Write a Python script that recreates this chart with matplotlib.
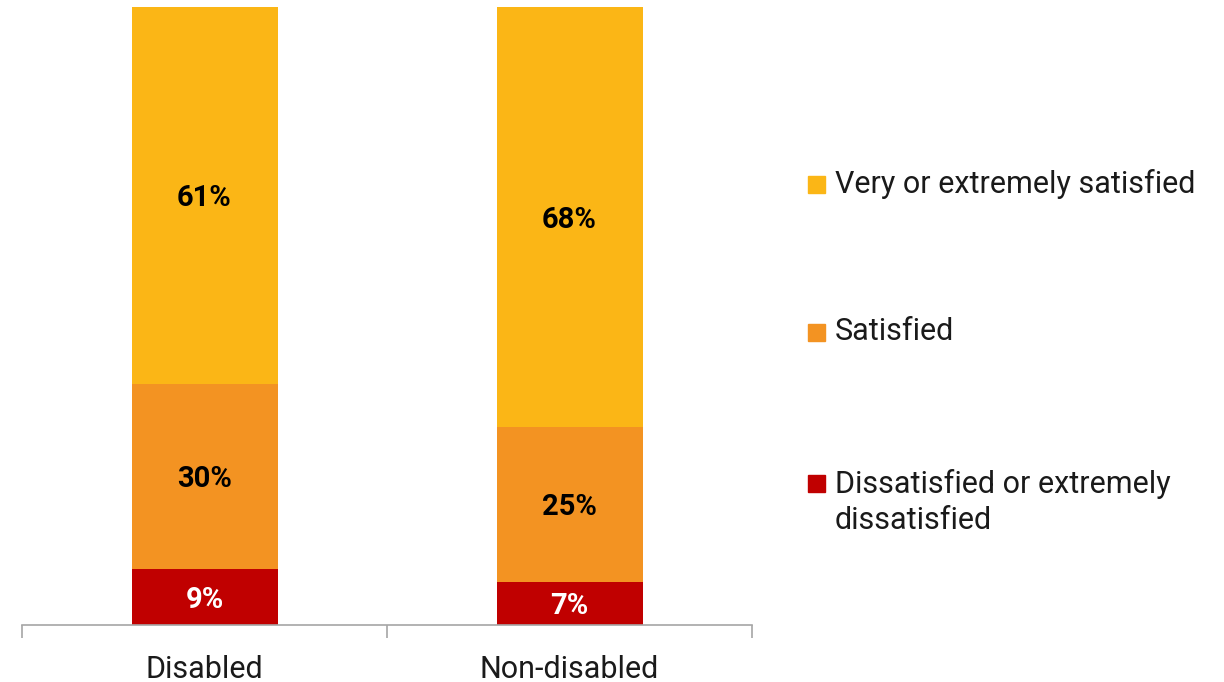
import matplotlib.pyplot as plt
from matplotlib.patches import Rectangle

# Data
categories = ["Disabled", "Non-disabled"]
series = ["Dissatisfied or extremely\ndissatisfied", "Satisfied", "Very or extremely satisfied"]
dissatisfied = [9, 7]
satisfied = [30, 25]
very_satisfied = [61, 68]
values = [dissatisfied, satisfied, very_satisfied]
colors = ["#C00000", "#F39322", "#FBB616"]
label_colors = ["white", "black", "black"]

plt.rcParams['font.family'] = ['Roboto', 'DejaVu Sans']

fig = plt.figure(figsize=(12.24, 6.82), dpi=100)
W, H = 1224, 682
ax = fig.add_axes([22 / W, (H - 625) / H, (752 - 22) / W, (625 - 7) / H])

x = list(range(len(categories)))
bottom = [0] * len(categories)
for vals, col, lc in zip(values, colors, label_colors):
    ax.bar(x, vals, width=0.4, bottom=bottom, color=col, edgecolor='none')
    for xi, b, v in zip(x, bottom, vals):
        ax.text(xi, b + v / 2 - 0.4, f"{v}%", ha='center', va='center',
                fontsize=21, fontweight='bold', color=lc)
    bottom = [b + v for b, v in zip(bottom, vals)]

ax.set_xlim(-0.5, len(categories) - 0.5)
ax.set_ylim(0, 100)
ax.set_yticks([])
for s in ['top', 'right', 'left']:
    ax.spines[s].set_visible(False)
ax.spines['bottom'].set_color('#A6A6A6')
ax.spines['bottom'].set_linewidth(1.2)

# category boundary ticks
ax.set_xticks([-0.5, 0.5, 1.5])
ax.set_xticklabels([])
ax.tick_params(axis='x', length=9, width=1.2, color='#A6A6A6', direction='out')
for xi, c in zip(x, categories):
    ax.text(xi, -0.072, c, transform=ax.get_xaxis_transform(), ha='center', va='center',
            fontsize=22, color='#1a1a1a')

# legend (manual)
legend_rows = [(184, 2), (332, 1), (502, 0)]
for yc, i in legend_rows:
    first_line = yc if i != 0 else 483
    fig.patches.append(Rectangle((808 / W, (H - first_line - 9) / H), 17 / W, 17 / H,
                                 transform=fig.transFigure, color=colors[i]))
    fig.text(835 / W, (H - yc) / H, series[i], ha='left', va='center',
             fontsize=22, color='#1a1a1a', linespacing=1.32)

fig.savefig("out.png", dpi=100)
